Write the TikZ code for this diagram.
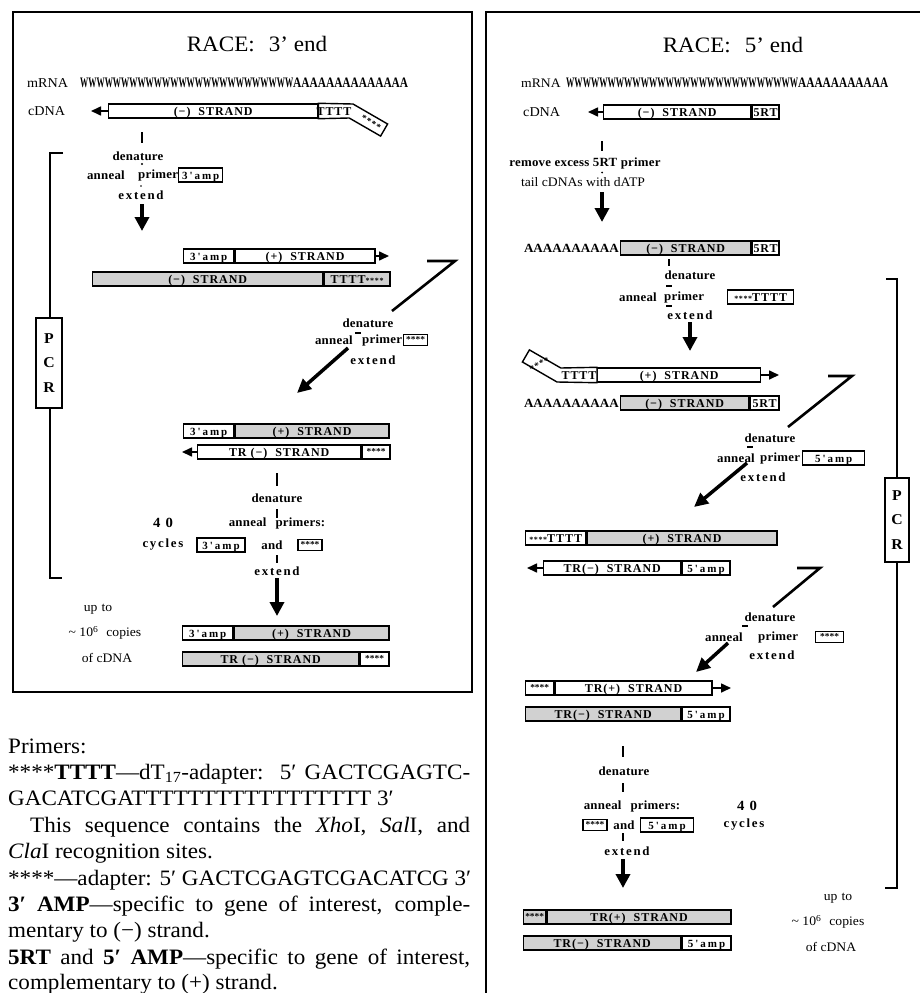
\documentclass[tikz,border=0pt]{standalone}
\usepackage{fontspec}
\usepackage{graphicx}
\setmainfont[FakeStretch=1.05]{Liberation Serif}
\newfontfamily\labf[FakeStretch=1.03,LetterSpace=2]{Liberation Serif}
\newfontfamily\spacf[FakeStretch=1.03,LetterSpace=14]{Liberation Serif}
\newfontfamily\segf[LetterSpace=8]{Liberation Serif}
\newfontfamily\ampf[LetterSpace=18]{Liberation Serif}
\usetikzlibrary{arrows.meta}
\tikzset{
  panel/.style={line width=2pt},
  lab/.style={inner sep=0pt, font=\labf\bfseries\fontsize{12.5}{15}\selectfont},
  slab/.style={inner sep=0pt, font=\spacf\bfseries\fontsize{12.5}{15}\selectfont},
  plain/.style={inner sep=0pt, font=\fontsize{13.5}{16}\selectfont},
  smalltxt/.style={inner sep=0pt, font=\fontsize{13}{15}\selectfont},
  ttl/.style={inner sep=0pt, font=\fontsize{22}{26}\selectfont},
  bodytxt/.style={inner sep=0pt, anchor=base west, font=\fontsize{22}{26}\selectfont},
  seg/.style={draw, line width=1.4pt, minimum height=14pt, inner sep=0pt, text height=8.5pt, text depth=0pt, anchor=west, fill=white, font=\segf\bfseries\fontsize{12}{12}\selectfont},
  shd/.style={fill=black!18},
  seglab/.style={inner sep=0pt, text height=8.5pt, text depth=0pt, font=\segf\bfseries\fontsize{12}{12}\selectfont},
  pbox/.style={draw, line width=1.4pt, minimum height=14pt, inner sep=0pt, text height=8.5pt, text depth=0pt, fill=white, font=\ampf\bfseries\fontsize{11}{12}\selectfont},
  sbox/.style={draw, line width=1.3pt, minimum height=11pt, minimum width=24pt, inner sep=0pt, text height=5pt, text depth=0pt, fill=white, font=\bfseries\fontsize{9}{9}\selectfont},
  stars/.style={font=\bfseries\fontsize{9}{9}\selectfont},
  tipend/.style={line width=1.6pt, -{Triangle[length=10pt,width=9pt]}},
  bigarrow/.style={line width=3.5pt, -{Triangle[length=14pt,width=14pt]}},
  diagarrow/.style={line width=3.5pt, -{Triangle[length=14pt,width=13pt]}},
  seven/.style={line width=2.6pt, line join=miter},
  flowtick/.style={line width=2pt},
  brk/.style={line width=1.2pt},
  pcrbox/.style={draw, line width=1.3pt, fill=white, minimum width=25pt, minimum height=88pt, inner sep=0pt, align=center, font=\bfseries\fontsize{15}{24.5}\selectfont},
  alab/.style={inner sep=0pt, font=\bfseries\fontsize{12.5}{14}\selectfont},
}
\begin{document}
\begin{tikzpicture}[x=1pt,y=-1pt]
\useasboundingbox (0,0) rectangle (920,993);
\fill[white] (0,0) rectangle (920,993);

%================ LEFT PANEL: 3' end =================
\draw[panel] (13,12) rectangle (472,692);
\node[ttl] (t3) at (257,44) {RACE:\hspace{14pt}3' end};

\node[plain, anchor=west] (m3l) at (27,83) {mRNA};
\node[anchor=west, inner sep=0pt] (m3s) at (80,83) {\bfseries\resizebox{213pt}{9.5pt}{WWWWWWWWWWWWWWWWWWWWWWWWWW}\resizebox{115pt}{9.5pt}{AAAAAAAAAAAAAA}};

\node[plain, anchor=west] (c3l) at (28,111) {cDNA};
\node[seg, minimum width=209pt] (c3a) at (108,111) {(−)\ \ STRAND};
\draw[line width=1.4pt, fill=white] (c3a.north east) -- (353,104) -- (387.6,124) -- (380.6,136.1) -- (349.2,118) -- (c3a.south east) -- cycle;
\node[seglab] (c3t) at (334,111) {TTTT};
\node[inner sep=0pt, rotate=-30, stars] (c3s) at (371,122.5) {*\hspace{0.8pt}*\hspace{0.8pt}*\hspace{0.8pt}*};
\coordinate (c3tip) at (91,111);
\draw[tipend] (c3a.west) -- (c3tip);

\coordinate (k1a) at (142,132); \coordinate (k1b) at (142,143);
\draw[flowtick] (k1a) -- (k1b);
\node[lab] (d1) at (138,156) {denature};
\fill (142,164) circle (1.1pt);
\node[lab, anchor=east] (a1) at (125,175) {anneal};
\node[lab, anchor=west] (p1) at (138,175) {primer};
\node[pbox, minimum width=44pt, anchor=west] (b1) at (178,175) {3'amp};
\fill (141,186) circle (0.9pt);
\node[slab] (e1) at (141,195) {extend};
\coordinate (ar1a) at (142,204); \coordinate (ar1b) at (142,231);
\draw[bigarrow] (ar1a) -- (ar1b);

% PCR bracket left
\coordinate (pb1) at (63,153); \coordinate (pb2) at (50,153);
\coordinate (pb3) at (50,578); \coordinate (pb4) at (62,578);
\draw[brk] (pb1) -- (pb2) -- (pb3) -- (pb4);
\node[pcrbox, minimum height=90pt, minimum width=26pt] (pcr1) at (49,363) {P\\C\\R};

% row 1
\node[seg, minimum width=50pt, font=\ampf\bfseries\fontsize{11}{12}\selectfont] (r1a) at (183,256) {3'amp};
\node[seg, minimum width=140pt] (r1b) at (r1a.east) {(+)\ \ STRAND};
\coordinate (r1tip) at (389,256);
\draw[tipend] (r1b.east) -- (r1tip);
% row 2
\node[seg, shd, minimum width=230pt] (r2a) at (92,279) {(−)\ \ STRAND};
\node[seg, shd, minimum width=66pt] (r2b) at (r2a.east) {TTTT{\fontsize{8}{8}\selectfont****}};

% seven 1
\coordinate (s1a) at (427,261); \coordinate (s1b) at (455,261); \coordinate (s1c) at (392,311);
\draw[seven] (s1a) -- (s1b) -- (s1c);
\node[lab] (d2) at (368,323) {denature};
\draw[line width=1.2pt] (355,333) -- (361,333);
\node[lab, anchor=east] (a2) at (353,340) {anneal};
\node[lab, anchor=west] (p2) at (362,340) {primer};
\node[sbox, anchor=west] (b2) at (403,340) {****};
\node[slab] (e2) at (373,360) {extend};
\coordinate (da1) at (348,348); \coordinate (da2) at (297,393);
\draw[diagarrow] (da1) -- (da2);

% row 3
\node[seg, minimum width=50pt, font=\ampf\bfseries\fontsize{11}{12}\selectfont] (r3a) at (183,431) {3'amp};
\node[seg, shd, minimum width=154pt] (r3b) at (r3a.east) {(+)\ \ STRAND};
% row 4
\node[seg, minimum width=163pt] (r4a) at (197,452) {TR\ (−)\ \ STRAND};
\node[seg, minimum width=28pt, stars, text height=5pt] (r4b) at (r4a.east) {****};
\coordinate (r4tip) at (182,452);
\draw[tipend] (r4a.west) -- (r4tip);

% 40 cycles block
\coordinate (k2a) at (277,473); \coordinate (k2b) at (277,486);
\draw[flowtick] (k2a) -- (k2b);
\node[lab] (d3) at (277,498) {denature};
\coordinate (k3a) at (277,509); \coordinate (k3b) at (277,518);
\draw[flowtick] (k3a) -- (k3b);
\node[lab, font=\bfseries\fontsize{14}{16}\selectfont] (n40a) at (163,523) {4\hspace{5pt}0};
\node[lab] (ap3) at (277,523) {anneal\hspace{9pt}primers:};
\node[slab] (cy3) at (163,545) {cycles};
\node[pbox, minimum width=48pt] (b3a) at (221,545) {3'amp};
\node[lab] (and3) at (272,545) {and};
\node[sbox] (b3b) at (310,545) {****};
\coordinate (k4a) at (277,555); \coordinate (k4b) at (277,563);
\draw[flowtick] (k4a) -- (k4b);
\node[slab] (e3) at (277,571) {extend};
\coordinate (ar2a) at (277,578); \coordinate (ar2b) at (277,616);
\draw[bigarrow] (ar2a) -- (ar2b);

\node[smalltxt] (up3) at (98,609) {up\hspace{4pt}to};
\node[smalltxt] (cp3) at (105,633) {\textasciitilde\ 10\textsuperscript{6}\hspace{8pt}copies};
\node[smalltxt] (of3) at (107,658) {of cDNA};

% rows 5,6
\node[seg, minimum width=50pt, font=\ampf\bfseries\fontsize{11}{12}\selectfont] (r5a) at (182,633) {3'amp};
\node[seg, shd, minimum width=155pt] (r5b) at (r5a.east) {(+)\ \ STRAND};
\node[seg, shd, minimum width=176pt] (r6a) at (182,659) {TR\ (−)\ \ STRAND};
\node[seg, minimum width=29pt, stars, text height=5pt] (r6b) at (r6a.east) {****};

%================ TEXT BELOW =================
\node[bodytxt] (l1) at (8,753) {Primers:};
\node[bodytxt] (l2) at (8,779.4) {\makebox[462pt][s]{****\textbf{TTTT}—dT\textsubscript{17}-adapter:\ \ 5′ GACTCGAGTC-}};
\node[bodytxt] (l3) at (8,805.8) {GACATCGATTTTTTTTTTTTTTTTT 3′};
\node[bodytxt] (l4) at (30,832.2) {\makebox[440pt][s]{This sequence contains the \textit{Xho}I, \textit{Sal}I, and}};
\node[bodytxt] (l5) at (8,858.6) {\textit{Cla}I recognition sites.};
\node[bodytxt] (l6) at (8,885) {****—adapter: 5′ GACTCGAGTCGACATCG 3′};
\node[bodytxt] (l7) at (8,911.4) {\makebox[462pt][s]{\textbf{3′ AMP}—specific to gene of interest, comple-}};
\node[bodytxt] (l8) at (8,937.8) {mentary to (−) strand.};
\node[bodytxt] (l9) at (8,964.2) {\makebox[462pt][s]{\textbf{5RT} and \textbf{5′ AMP}—specific to gene of interest,}};
\node[bodytxt] (l10) at (8,989) {complementary to (+) strand.};

%================ RIGHT PANEL: 5' end =================
\draw[panel] (486,996) -- (486,12) -- (922,12);
\node[ttl] (t5) at (733,45) {RACE:\hspace{14pt}5' end};

\node[plain, anchor=west, font=\fontsize{13}{15}\selectfont] (m5l) at (521,83) {mRNA};
\node[anchor=west, inner sep=0pt] (m5s) at (566,83) {\bfseries\resizebox{232pt}{9.5pt}{WWWWWWWWWWWWWWWWWWWWWWWWWWWW}\resizebox{90pt}{9.5pt}{AAAAAAAAAAA}};

\node[plain, anchor=west] (c5l) at (523,112) {cDNA};
\node[seg, minimum width=147pt] (c5a) at (603,112) {(−)\ \ STRAND};
\node[seg, minimum width=27pt] (c5b) at (c5a.east) {5RT};
\coordinate (c5tip) at (588,112);
\draw[tipend] (c5a.west) -- (c5tip);

\coordinate (k5a) at (602,141); \coordinate (k5b) at (602,151);
\draw[flowtick] (k5a) -- (k5b);
\node[lab] (rm5) at (585,163) {remove excess 5RT primer};
\fill (602,172.5) circle (1pt);
\node[smalltxt] (tl5) at (583,182) {tail cDNAs with dATP};
\coordinate (ar5a) at (602,192); \coordinate (ar5b) at (602,222);
\draw[bigarrow] (ar5a) -- (ar5b);

% row A
\node[alab, anchor=east] (ra0) at (619,248) {AAAAAAAAAA};
\node[seg, shd, minimum width=130pt] (ra1) at (620,248) {(−)\ \ STRAND};
\node[seg, minimum width=27pt] (ra2) at (ra1.east) {5RT};

\coordinate (k6a) at (669,259); \coordinate (k6b) at (669,266);
\draw[line width=1.4pt] (k6a) -- (k6b);
\node[lab] (d6) at (690,275) {denature};
\draw[line width=1.2pt] (666,286) -- (672,286);
\node[lab, anchor=east] (a6) at (657,297) {anneal};
\node[lab, anchor=west] (p6) at (664,297) {primer};
\node[pbox, minimum width=66pt, anchor=west, font=\segf\bfseries\fontsize{12}{12}\selectfont] (b6) at (727,297) {{\fontsize{8}{8}\selectfont****}TTTT};
\draw[line width=1.2pt] (666,306) -- (672,306);
\node[slab] (e6) at (690,315) {extend};
\coordinate (ar6a) at (690,322); \coordinate (ar6b) at (690,351);
\draw[bigarrow] (ar6a) -- (ar6b);

% row B
\node[seg, minimum width=163pt] (rb2) at (597,375) {(+)\ \ STRAND};
\draw[line width=1.4pt, fill=white] (rb2.north west) -- (560.8,368) -- (529.4,349.9) -- (522.4,362) -- (557,382) -- (rb2.south west) -- cycle;
\node[seglab] (rbt) at (579,375) {TTTT};
\node[inner sep=0pt, rotate=30, stars] (rbs) at (539.5,364.5) {*\hspace{0.8pt}*\hspace{0.8pt}*\hspace{0.8pt}*};
\coordinate (rbtip) at (779,375);
\draw[tipend] (rb2.east) -- (rbtip);
% row C
\node[alab, anchor=east] (rc0) at (619,403) {AAAAAAAAAA};
\node[seg, shd, minimum width=128pt] (rc1) at (620,403) {(−)\ \ STRAND};
\node[seg, minimum width=29pt] (rc2) at (rc1.east) {5RT};

% seven 2
\coordinate (s2a) at (828,376); \coordinate (s2b) at (852,376); \coordinate (s2c) at (788,427);
\draw[seven] (s2a) -- (s2b) -- (s2c);
\node[lab] (d7) at (770,438) {denature};
\draw[line width=1.2pt] (747,447) -- (753,447);
\node[lab, anchor=east] (a7) at (755,458) {anneal};
\node[lab, anchor=west] (p7) at (760,458) {primer};
\node[pbox, minimum width=62pt, anchor=west] (b7) at (802,458) {5'amp};
\node[slab] (e7) at (763,477) {extend};
\coordinate (da3) at (747,463); \coordinate (da4) at (694,507);
\draw[diagarrow] (da3) -- (da4);

% row D
\node[seg, minimum width=60pt] (rd1) at (525,538) {{\fontsize{8}{8}\selectfont****}TTTT};
\node[seg, shd, minimum width=190pt] (rd2) at (rd1.east) {(+)\ \ STRAND};
% row E
\node[seg, minimum width=137pt] (re1) at (543,568) {TR(−)\ \ STRAND};
\node[seg, minimum width=48pt, font=\ampf\bfseries\fontsize{11}{12}\selectfont] (re2) at (re1.east) {5'amp};
\coordinate (retip) at (527,568);
\draw[tipend] (re1.west) -- (retip);

% seven 3
\coordinate (s3a) at (797,568); \coordinate (s3b) at (820,568); \coordinate (s3c) at (773,607);
\draw[seven] (s3a) -- (s3b) -- (s3c);
\node[lab] (d8) at (770,617) {denature};
\draw[line width=1.2pt] (742,626) -- (748,626);
\node[lab, anchor=east] (a8) at (743,637) {anneal};
\node[lab, anchor=west] (p8) at (758,637) {primer};
\node[sbox, minimum width=28pt, anchor=west] (b8) at (815,637) {****};
\node[slab] (e8) at (772,655) {extend};
\coordinate (da5) at (728,643); \coordinate (da6) at (696,672);
\draw[diagarrow] (da5) -- (da6);

% row F
\node[seg, minimum width=28pt, stars, text height=5pt] (rf1) at (525,688) {****};
\node[seg, minimum width=157pt] (rf2) at (rf1.east) {TR(+)\ \ STRAND};
\coordinate (rftip) at (731,688);
\draw[tipend] (rf2.east) -- (rftip);
% row G
\node[seg, shd, minimum width=155pt] (rg1) at (525,714) {TR(−)\ \ STRAND};
\node[seg, minimum width=48pt, font=\ampf\bfseries\fontsize{11}{12}\selectfont] (rg2) at (rg1.east) {5'amp};

% 40 cycles right
\coordinate (k9a) at (623,746); \coordinate (k9b) at (623,757);
\draw[flowtick] (k9a) -- (k9b);
\node[lab] (d9) at (624,771) {denature};
\coordinate (k10a) at (623,783); \coordinate (k10b) at (623,792);
\draw[flowtick] (k10a) -- (k10b);
\node[lab] (ap9) at (632,806) {anneal\hspace{9pt}primers:};
\node[lab, font=\bfseries\fontsize{14}{16}\selectfont] (n40b) at (747,806) {4\hspace{5pt}0};
\node[sbox] (b9a) at (595,825) {****};
\node[lab] (and9) at (624,825) {and};
\node[pbox, minimum width=53pt] (b9b) at (667,825) {5'amp};
\node[slab] (cy9) at (744,825) {cycles};
\coordinate (k11a) at (623,833); \coordinate (k11b) at (623,841);
\draw[flowtick] (k11a) -- (k11b);
\node[slab] (e9) at (627,851) {extend};
\coordinate (ar9a) at (623,859); \coordinate (ar9b) at (623,888);
\draw[bigarrow] (ar9a) -- (ar9b);

% rows H, I
\node[seg, shd, minimum width=22pt, stars, text height=5pt] (rh1) at (523,917) {****};
\node[seg, shd, minimum width=184pt] (rh2) at (rh1.east) {TR(+)\ \ STRAND};
\node[seg, shd, minimum width=157pt] (ri1) at (523,943) {TR(−)\ \ STRAND};
\node[seg, minimum width=49pt, font=\ampf\bfseries\fontsize{11}{12}\selectfont] (ri2) at (ri1.east) {5'amp};

\node[smalltxt] (up5) at (838,898) {up\hspace{4pt}to};
\node[smalltxt] (cp5) at (828,922) {\textasciitilde\ 10\textsuperscript{6}\hspace{8pt}copies};
\node[smalltxt] (of5) at (831,947) {of cDNA};

% PCR bracket right
\coordinate (pc1) at (886,279); \coordinate (pc2) at (897,279);
\coordinate (pc3) at (897,888); \coordinate (pc4) at (885,888);
\draw[brk] (pc1) -- (pc2) -- (pc3) -- (pc4);
\node[pcrbox, minimum width=24pt, minimum height=84pt] (pcr2) at (897,520) {P\\C\\R};
\end{tikzpicture}
\end{document}
